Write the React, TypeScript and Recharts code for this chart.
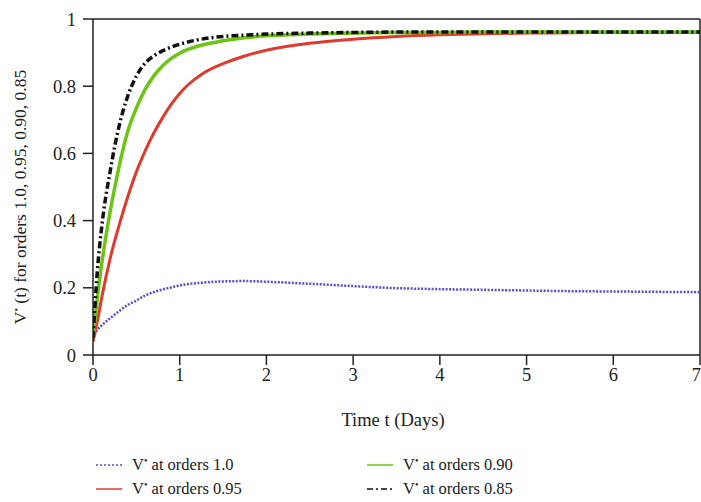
import React from "react";
import { LineChart, Line, XAxis, YAxis, ReferenceLine } from "recharts";

const T = [0, 0.05, 0.1, 0.2, 0.3, 0.4, 0.5, 0.6, 0.7, 0.8, 0.9, 1, 1.1, 1.25, 1.5, 1.75, 2, 2.5, 3, 3.5, 4, 4.5, 5, 5.5, 6, 6.5, 7];
const V100 = [0.05, 0.075, 0.088, 0.11, 0.13, 0.149, 0.162, 0.177, 0.187, 0.195, 0.201, 0.207, 0.211, 0.215, 0.219, 0.22, 0.218, 0.212, 0.205, 0.199, 0.196, 0.194, 0.192, 0.19, 0.189, 0.188, 0.187];
const V095 = [0.04, 0.1, 0.17, 0.29, 0.385, 0.47, 0.545, 0.607, 0.66, 0.705, 0.745, 0.778, 0.805, 0.835, 0.867, 0.89, 0.907, 0.928, 0.94, 0.948, 0.953, 0.956, 0.958, 0.959, 0.96, 0.96, 0.96];
const V090 = [0.05, 0.17, 0.27, 0.43, 0.56, 0.665, 0.735, 0.79, 0.83, 0.86, 0.882, 0.898, 0.91, 0.922, 0.935, 0.944, 0.95, 0.955, 0.958, 0.96, 0.96, 0.961, 0.961, 0.961, 0.961, 0.961, 0.961];
const V085 = [0.05, 0.25, 0.38, 0.55, 0.68, 0.77, 0.83, 0.868, 0.89, 0.905, 0.916, 0.925, 0.932, 0.94, 0.948, 0.952, 0.955, 0.958, 0.96, 0.961, 0.961, 0.961, 0.961, 0.961, 0.961, 0.961, 0.961];
const X_TICKS = [0, 1, 2, 3, 4, 5, 6, 7];
const Y_TICKS = [0, 0.2, 0.4, 0.6, 0.8, 1];
const LEGEND = ["V• at orders 1.0", "V• at orders 0.95", "V• at orders 0.90", "V• at orders 0.85"];

const data = T.map((t, i) => ({ t, a: V100[i], b: V095[i], c: V090[i], d: V085[i] }));

const FONT = "'Liberation Serif', 'DejaVu Serif', serif";
const BLUE = "#5a4ccc";
const RED = "#e03a2e";
const GREEN = "#6cc414";
const BLACK = "#111";

function LegendItem({ x, y, label, color, dash, width }: any) {
  const parts = label.split("•");
  return (
    <div style={{ position: "absolute", left: x, top: y, display: "flex", alignItems: "center", fontFamily: FONT, fontSize: 16.5, color: "#222", whiteSpace: "nowrap" }}>
      <svg width={36} height={10}>
        <line x1={0} y1={5} x2={26} y2={5} stroke={color} strokeWidth={width} strokeDasharray={dash} />
      </svg>
      <span>
        {parts[0]}
        <sup style={{ fontSize: 10, verticalAlign: "6px" }}>•</sup>
        {parts[1]}
      </span>
    </div>
  );
}

export default function App() {
  return (
    <div style={{ position: "absolute", left: 0, top: 0, width: 701, height: 502, background: "#fff" }}>
      <LineChart width={701} height={502} data={data} margin={{ top: 19, right: 1, bottom: 117, left: 0 }}>
        <XAxis
          dataKey="t"
          type="number"
          domain={[0, 7]}
          ticks={X_TICKS}
          stroke="#222"
          strokeWidth={1.5}
          tickSize={10}
          tickMargin={3}
          height={30}
          tick={{ fontSize: 18.5, fill: "#222", fontFamily: FONT }}
          allowDataOverflow
        />
        <YAxis
          type="number"
          domain={[0, 1]}
          ticks={Y_TICKS}
          stroke="#222"
          strokeWidth={1.5}
          tickSize={10}
          tickMargin={7}
          width={93}
          tick={{ fontSize: 18.5, fill: "#222", fontFamily: FONT }}
          allowDataOverflow
        />
        <ReferenceLine y={1} stroke="#222" strokeWidth={1.5} ifOverflow="visible" />
        <ReferenceLine x={7} stroke="#222" strokeWidth={1.5} ifOverflow="visible" />
        <Line dataKey="a" type="monotone" stroke={BLUE} strokeWidth={2.5} strokeDasharray="2 1.5" dot={false} isAnimationActive={false} />
        <Line dataKey="b" type="monotone" stroke={RED} strokeWidth={3} dot={false} isAnimationActive={false} />
        <Line dataKey="c" type="monotone" stroke={GREEN} strokeWidth={3.5} dot={false} isAnimationActive={false} />
        <Line dataKey="d" type="monotone" stroke={BLACK} strokeWidth={3.5} strokeDasharray="7 3 2 3" dot={false} isAnimationActive={false} />
      </LineChart>
      <div style={{ position: "absolute", left: 20, top: 197, width: 0, height: 0 }}>
        <div style={{ position: "absolute", transform: "translate(-50%, -50%) rotate(-90deg)", fontFamily: FONT, fontSize: 17.5, color: "#222", whiteSpace: "nowrap" }}>
          V<sup style={{ fontSize: 10, verticalAlign: "6px" }}>•</sup> (t) for orders 1.0, 0.95, 0.90, 0.85
        </div>
      </div>
      <div style={{ position: "absolute", left: 0, top: 410, width: 786, textAlign: "center", fontFamily: FONT, fontSize: 18.5, color: "#222" }}>
        Time t (Days)
      </div>
      <LegendItem x={96} y={455} label={LEGEND[0]} color={BLUE} dash="2 2" width={1.5} />
      <LegendItem x={96} y={479} label={LEGEND[1]} color={RED} width={1.5} />
      <LegendItem x={367} y={455} label={LEGEND[2]} color={GREEN} width={1.5} />
      <LegendItem x={367} y={479} label={LEGEND[3]} color={BLACK} dash="6 3 2 3" width={1.5} />
    </div>
  );
}
